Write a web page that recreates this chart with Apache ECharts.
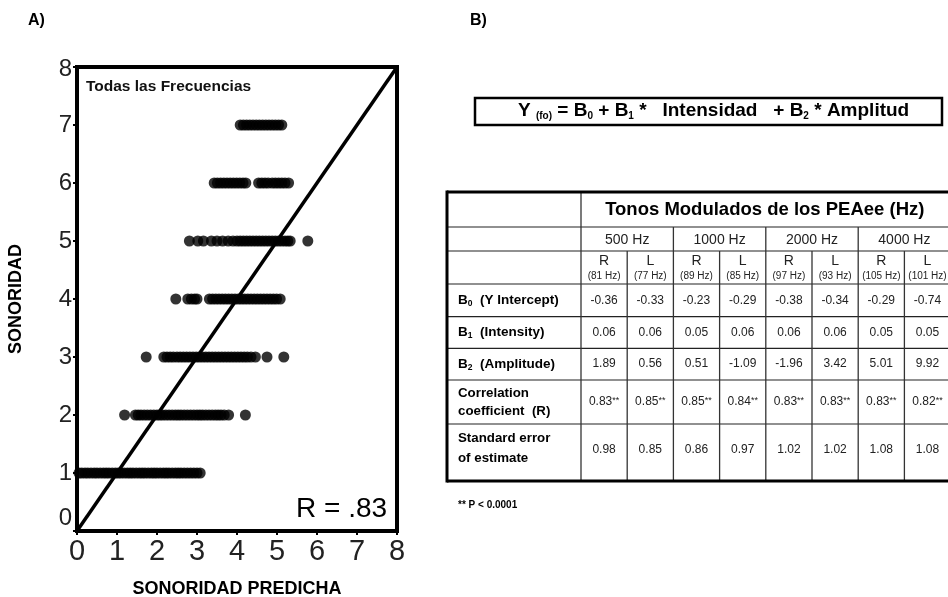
<!DOCTYPE html>
<html><head><meta charset="utf-8">
<script src="https://cdn.jsdelivr.net/npm/echarts@6/dist/echarts.min.js"></script>
<style>html,body{margin:0;padding:0;background:#fff}#c{width:948px;height:597px}</style>
</head><body><div id="c"></div>
<script>
// ---- Panel A data (x = SONORIDAD PREDICHA for each SONORIDAD level) ----
const row1X = [0.05,0.12,0.2,0.27,0.35,0.43,0.5,0.58,0.66,0.73,0.8,0.88,0.96,1.03,1.1,1.18,1.26,1.33,1.4,1.48,1.56,1.63,1.7,1.78,1.86,1.93,2.0,2.08,2.16,2.23,2.3,2.38,2.46,2.53,2.6,2.68,2.76,2.84,2.92,3.0,3.08];
const row2X = [1.19,1.46,1.53,1.6,1.68,1.76,1.84,1.92,2.0,2.07,2.14,2.22,2.3,2.38,2.46,2.53,2.6,2.68,2.76,2.84,2.92,3.0,3.07,3.14,3.22,3.3,3.38,3.46,3.53,3.6,3.68,3.79,4.21];
const row3X = [1.73,2.17,2.25,2.33,2.41,2.5,2.58,2.66,2.74,2.82,2.9,2.98,3.06,3.14,3.22,3.3,3.38,3.46,3.54,3.62,3.7,3.78,3.86,3.94,4.02,4.1,4.18,4.26,4.35,4.46,4.75,5.17];
const row4X = [2.47,2.77,2.86,2.94,3.0,3.31,3.39,3.47,3.55,3.63,3.71,3.79,3.87,3.95,4.03,4.11,4.19,4.27,4.35,4.43,4.51,4.59,4.67,4.75,4.83,4.91,4.99,5.08];
const row5X = [2.81,3.02,3.16,3.36,3.5,3.64,3.78,3.9,4.0,4.08,4.16,4.24,4.32,4.4,4.48,4.56,4.64,4.72,4.8,4.88,4.96,5.04,5.12,5.2,5.27,5.33,5.77];
const row6X = [3.43,3.51,3.59,3.67,3.75,3.83,3.91,3.99,4.07,4.15,4.22,4.54,4.62,4.7,4.78,4.88,4.96,5.04,5.12,5.2,5.29];
const row7X = [4.08,4.16,4.24,4.32,4.4,4.48,4.56,4.64,4.72,4.8,4.88,4.96,5.04,5.12];
const rowsX = [row1X,row2X,row3X,row4X,row5X,row6X,row7X];
const fitLine = [[0,0],[8,8]];
const axisMin = 0, axisMax = 8, axisStep = 1;

// ---- Panel B data ----
const freqGroups = ['500 Hz','1000 Hz','2000 Hz','4000 Hz'];
const ears = ['R','L','R','L','R','L','R','L'];
const earHz = ['(81 Hz)','(77 Hz)','(89 Hz)','(85 Hz)','(97 Hz)','(93 Hz)','(105 Hz)','(101 Hz)'];
const b0Vals = [-0.36,-0.33,-0.23,-0.29,-0.38,-0.34,-0.29,-0.74];
const b1Vals = [0.06,0.06,0.05,0.06,0.06,0.06,0.05,0.05];
const b2Vals = [1.89,0.56,0.51,-1.09,-1.96,3.42,5.01,9.92];
const rVals = [0.83,0.85,0.85,0.84,0.83,0.83,0.83,0.82];
const seVals = [0.98,0.85,0.86,0.97,1.02,1.02,1.08,1.08];

const FONT = 'Liberation Sans';
const scatterData = [];
rowsX.forEach((xs, i) => xs.forEach(x => scatterData.push([x, i + 1])));

// table geometry
const tL = 447, tC = 581, colW = 46.2, tR = 960;
const rowY = [192, 227, 251, 284, 316.7, 348.3, 380, 424, 481];
const colX = i => tC + colW * i;
const G = [];
function line(x1,y1,x2,y2,w,c){G.push({type:'line',silent:true,shape:{x1,y1,x2,y2},style:{stroke:c||'#222',lineWidth:w||1.2}});}
function txt(x,y,text,o){G.push({type:'text',silent:true,x,y,style:Object.assign({text,fill:'#111',fontFamily:FONT,fontSize:12,align:'center',verticalAlign:'middle'},o||{})});}

for (let r = 1; r < rowY.length - 1; r++) line(tL, rowY[r], tR, rowY[r], 1.2, '#222');
line(tC, rowY[0], tC, rowY[8], 1.3, '#333');
for (let k = 1; k <= 4; k++) line(colX(2*k), rowY[1], colX(2*k), rowY[8], 1.3, '#333');
for (let k = 0; k < 4; k++) line(colX(2*k+1), rowY[2], colX(2*k+1), rowY[8], 1.3, '#333');
line(tL, rowY[0], tR, rowY[0], 3, '#000');
line(tL, rowY[8], tR, rowY[8], 3, '#000');
line(tL, rowY[0]-1.5, tL, rowY[8]+1.5, 3, '#000');

txt((tC + colX(8))/2 - 1, 210, 'Tonos Modulados de los PEAee (Hz)', {fontSize:18.5, fontWeight:'bold', fill:'#000'});
freqGroups.forEach((f,k)=>txt(colX(2*k+1), 240, f, {fontSize:14, fill:'#222'}));
ears.forEach((e,i)=>{
  txt(colX(i)+colW/2, 261, e, {fontSize:14, fill:'#222'});
  txt(colX(i)+colW/2, 276.5, earHz[i], {fontSize:10, fill:'#222'});
});
const valRows = [
  {vals:b0Vals.map(v=>v.toFixed(2)), y:300.5},
  {vals:b1Vals.map(v=>v.toFixed(2)), y:332.5},
  {vals:b2Vals.map(v=>v.toFixed(2)), y:364},
  {vals:rVals.map(v=>v.toFixed(2)+'**'), y:402},
  {vals:seVals.map(v=>v.toFixed(2)), y:450}
];
valRows.forEach(r=>r.vals.forEach((v,i)=>{
  const star = v.endsWith('**');
  if (star) txt(colX(i)+colW/2, r.y, '{n|'+v.slice(0,-2)+'}{s|**}', {rich:{n:{fontSize:12,fill:'#222',fontFamily:FONT},s:{fontSize:9,fill:'#222',fontFamily:FONT,verticalAlign:'top',lineHeight:12}}});
  else txt(colX(i)+colW/2, r.y, v, {fontSize:12, fill:'#222'});
}));
const lblRich = {b:{fontSize:13.5,fontWeight:'bold',fontFamily:FONT,fill:'#000',lineHeight:16},s:{fontSize:8.5,fontWeight:'bold',fontFamily:FONT,fill:'#000',lineHeight:9,verticalAlign:'bottom'}};
txt(458, 300.5, '{b|B}{s|0}{b|  (Y Intercept)}', {align:'left', rich:lblRich});
txt(458, 332.5, '{b|B}{s|1}{b|  (Intensity)}', {align:'left', rich:lblRich});
txt(458, 364, '{b|B}{s|2}{b|  (Amplitude)}', {align:'left', rich:lblRich});
txt(458, 402, 'Correlation\ncoefficient  (R)', {align:'left', fontSize:13.3, fontWeight:'bold', fill:'#000', lineHeight:18});
txt(458, 448, 'Standard error\nof estimate', {align:'left', fontSize:13.3, fontWeight:'bold', fill:'#000', lineHeight:20});
txt(458, 505, '** P < 0.0001', {align:'left', fontSize:10, fontWeight:'bold', fill:'#000'});

// equation box
G.push({type:'rect',silent:true,shape:{x:475,y:98,width:467,height:27},style:{fill:'none',stroke:'#000',lineWidth:2.5}});
const eqRich = {m:{fontSize:19,fontWeight:'bold',fontFamily:FONT,fill:'#000',lineHeight:20},s:{fontSize:10,fontWeight:'bold',fontFamily:FONT,fill:'#000',lineHeight:10,verticalAlign:'bottom'}};
txt(518, 111, '{m|Y }{s|(fo)}{m| = B}{s|0}{m| + B}{s|1}{m| *   Intensidad   + B}{s|2}{m| * Amplitud}', {align:'left', rich:eqRich});

txt(28, 21, 'A)', {align:'left', fontSize:16, fontWeight:'bold', fill:'#000'});
txt(470, 21, 'B)', {align:'left', fontSize:16, fontWeight:'bold', fill:'#000'});
txt(86, 87, 'Todas las Frecuencias', {align:'left', fontSize:15.5, fontWeight:'bold', fill:'#111'});
txt(296, 509, 'R = .83', {align:'left', fontSize:28, fill:'#000'});

const chart = echarts.init(document.getElementById('c'), null, {renderer:'canvas'});
const axisCommon = {
  type:'value', min:axisMin, max:axisMax, interval:axisStep,
  splitLine:{show:false},
  axisLine:{show:true, lineStyle:{color:'#000', width:4}},
  axisTick:{show:true, length:4, lineStyle:{color:'#000', width:2}},
  nameLocation:'middle',
  nameTextStyle:{fontFamily:FONT, fontWeight:'bold', fontSize:18, color:'#000'}
};
chart.setOption({
  animation:false,
  backgroundColor:'#fff',
  grid:{left:77, right:551, top:67, bottom:66, show:true, borderColor:'#000', borderWidth:4, backgroundColor:'transparent', containLabel:false, outerBoundsMode:'none'},
  xAxis:Object.assign({}, axisCommon, {
    name:'SONORIDAD PREDICHA', nameGap:49,
    axisLabel:{fontFamily:FONT, fontSize:29, color:'#222', margin:6}
  }),
  yAxis:Object.assign({}, axisCommon, {
    name:'SONORIDAD', nameGap:52, nameRotate:90,
    axisLabel:{fontFamily:FONT, fontSize:24, color:'#222', margin:5,
      formatter: v => v === 0 ? '{z|0}' : (v === 8 ? '{t|8}' : String(v)),
      rich:{z:{fontFamily:FONT, fontSize:24, color:'#222', padding:[0,0,26,0]}, t:{fontFamily:FONT, fontSize:24, color:'#222', padding:[4,0,0,0]}}}
  }),
  series:[
    {type:'scatter', data:scatterData, symbol:'circle', symbolSize:11, itemStyle:{color:'#000'}, silent:true, z:2},
    {type:'line', data:fitLine, showSymbol:false, symbol:'none', lineStyle:{color:'#000', width:3.5}, silent:true, z:3}
  ],
  graphic:G
});
</script></body></html>
